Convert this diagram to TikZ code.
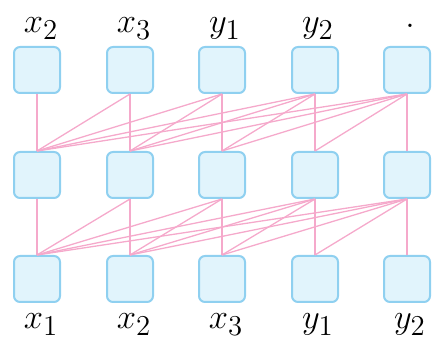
\documentclass[tikz,border=0pt]{standalone}
\usepackage{amsmath}
\definecolor{boxfill}{HTML}{E1F4FC}
\definecolor{boxline}{HTML}{8FD0F0}
\definecolor{linkpink}{HTML}{F5A9CB}

\begin{document}
\begin{tikzpicture}
		[x=0.5pt,y=-0.5pt,
		 cell/.style= {minimum size=23pt,rounded corners=3pt,line width=1pt,draw=boxline,fill=boxfill},
		 link/.style= {draw=linkpink,line width=0.65pt},
		 lbl/.style= {font=\fontsize{19}{23}\selectfont,anchor=base,inner sep=0pt}]
		
		\useasboundingbox (0,0) rectangle (433,340);
		
		% boxes
		\foreach \i/\x in {1/37,2/130,3/222,4/315,5/407} {
			\node[cell] (t\i) at (\x,70) {};
			\node[cell] (m\i) at (\x,175) {};
			\node[cell] (b\i) at (\x,279) {};
		}
		
		% links, each upper box to every lower box on its left
		\foreach \j in {1,...,5} {
			\foreach \i in {1,...,\j} {
				\draw[link] (t\j.south) -- (m\i.north);
				\draw[link] (m\j.south) -- (b\i.north);
			}
		}
		
		% labels
		\node[lbl] (lt1) at (41,33) {$x_2$};
		\node[lbl] (lt2) at (134,33) {$x_3$};
		\node[lbl] (lt3) at (225,33) {$y_1$};
		\node[lbl] (lt4) at (318,33) {$y_2$};
		\node[lbl] (lt5) at (410,28) {$.$};
		
		\node[lbl] (lb1) at (41,329) {$x_1$};
		\node[lbl] (lb2) at (134,329) {$x_2$};
		\node[lbl] (lb3) at (226,329) {$x_3$};
		\node[lbl] (lb4) at (318,329) {$y_1$};
		\node[lbl] (lb5) at (410,329) {$y_2$};
		
	\end{tikzpicture}
\end{document}
